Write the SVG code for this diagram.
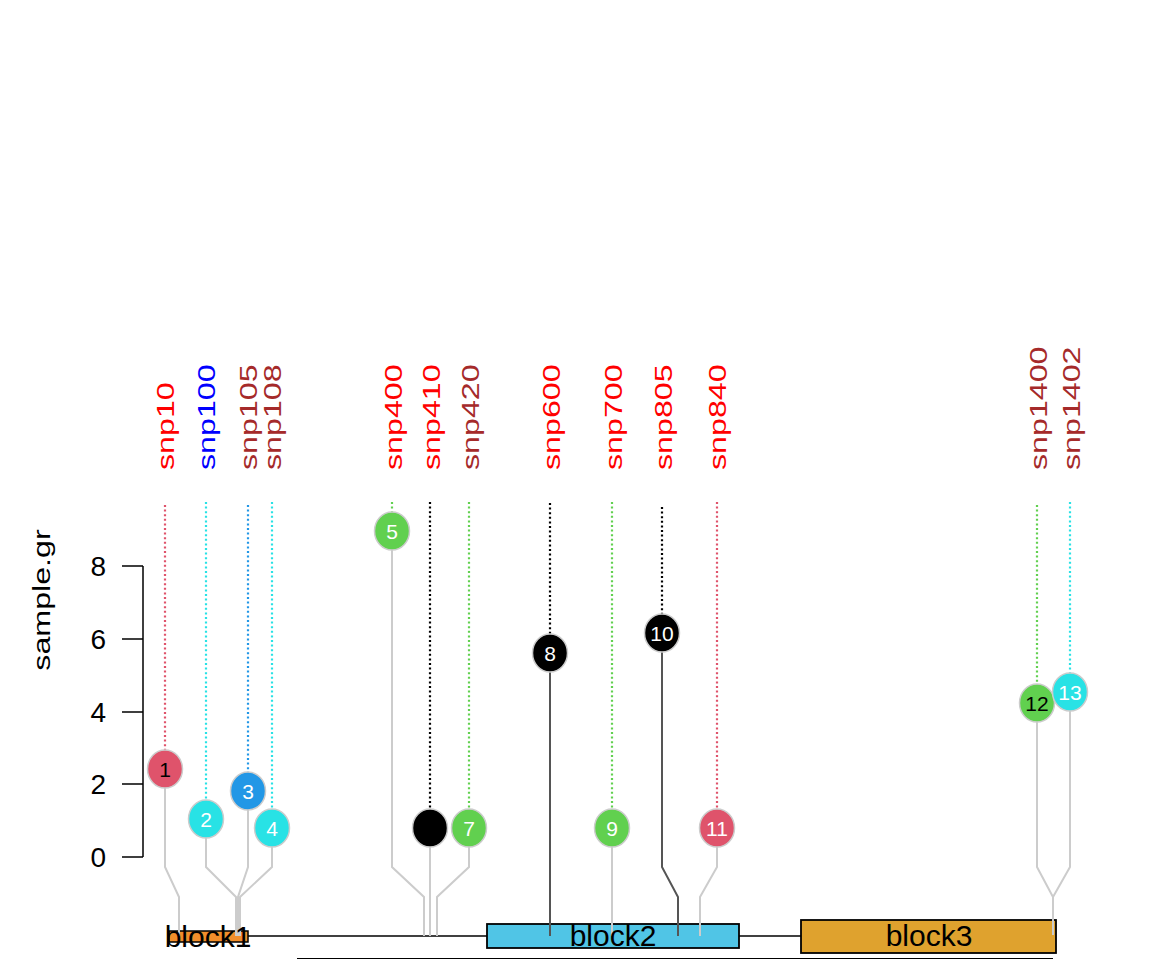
<svg xmlns="http://www.w3.org/2000/svg" width="1152" height="960" viewBox="0 0 1152 960">
<style>
text{font-family:"Liberation Sans",Arial,sans-serif}
.lab{font-size:23px}
.tick{font-size:28px;text-anchor:end}
.num{font-size:21px;text-anchor:middle}
.blk{font-size:30px;text-anchor:middle;fill:#000}
.dot{fill:none;stroke-width:2.2;stroke-dasharray:2 2.6}
.stem{fill:none;stroke:#cccccc;stroke-width:2}
.stemd{fill:none;stroke:#555555;stroke-width:2}
.pin{stroke:#cccccc;stroke-width:1.5}
.ax{stroke:#000;stroke-width:1.5;fill:none}
</style>
<rect width="1152" height="960" fill="#fff"/>
<g id="axis">
<path class="ax" d="M143 566V857M122 566H143M122 639H143M122 712H143M122 784H143M122 857H143"/>
<text class="tick" x="106" y="867">0</text>
<text class="tick" x="106" y="794">2</text>
<text class="tick" x="106" y="722">4</text>
<text class="tick" x="106" y="649">6</text>
<text class="tick" x="106" y="576">8</text>
<text transform="translate(50,600) rotate(-90) scale(1.4,1)" font-size="23" text-anchor="middle">sample.gr</text>
</g>
<g id="labels" class="lab">
<text transform="translate(174,470) rotate(-90) scale(1.4,1)" fill="#ff0000">snp10</text>
<text transform="translate(215,470) rotate(-90) scale(1.4,1)" fill="#0000ff">snp100</text>
<text transform="translate(257,470) rotate(-90) scale(1.4,1)" fill="#a52a2a">snp105</text>
<text transform="translate(281,470) rotate(-90) scale(1.4,1)" fill="#a52a2a">snp108</text>
<text transform="translate(402,470) rotate(-90) scale(1.4,1)" fill="#ff0000">snp400</text>
<text transform="translate(440,470) rotate(-90) scale(1.4,1)" fill="#ff0000">snp410</text>
<text transform="translate(479,470) rotate(-90) scale(1.4,1)" fill="#a52a2a">snp420</text>
<text transform="translate(560,470) rotate(-90) scale(1.4,1)" fill="#ff0000">snp600</text>
<text transform="translate(622,470) rotate(-90) scale(1.4,1)" fill="#ff0000">snp700</text>
<text transform="translate(672,470) rotate(-90) scale(1.4,1)" fill="#ff0000">snp805</text>
<text transform="translate(726,470) rotate(-90) scale(1.4,1)" fill="#ff0000">snp840</text>
<text transform="translate(1047,470) rotate(-90) scale(1.4,1)" fill="#a52a2a">snp1400</text>
<text transform="translate(1080,470) rotate(-90) scale(1.4,1)" fill="#a52a2a">snp1402</text>
</g>
<g id="track">
<path d="M169 936H801" stroke="#000" stroke-width="1.5"/>
<path d="M297 958.5H1053" stroke="#000" stroke-width="1.2"/>
<rect id="block1" x="169" y="931" width="79" height="11" fill="#f28e2b" stroke="#000" stroke-width="1.5"/>
<rect id="block2" x="487" y="924" width="252" height="24" fill="#50c5e6" stroke="#000" stroke-width="1.8"/>
<rect id="block3" x="801" y="920" width="255" height="33" fill="#dfa22e" stroke="#000" stroke-width="1.8"/>
</g>
<g id="connectors">
<path class="dot" stroke="#df536b" d="M165 505V750"/>
<path class="dot" stroke="#28e2e5" d="M206 502V800"/>
<path class="dot" stroke="#2297e6" d="M248 505V772"/>
<path class="dot" stroke="#28e2e5" d="M272 502V809"/>
<path class="dot" stroke="#61d04f" d="M392 502V512"/>
<path class="dot" stroke="#000" d="M430 502V809"/>
<path class="dot" stroke="#61d04f" d="M469 502V809"/>
<path class="dot" stroke="#000" d="M550 503V634"/>
<path class="dot" stroke="#61d04f" d="M612 502V809"/>
<path class="dot" stroke="#000" d="M662 507V614"/>
<path class="dot" stroke="#df536b" d="M717 502V809"/>
<path class="dot" stroke="#61d04f" d="M1037 505V684"/>
<path class="dot" stroke="#28e2e5" d="M1070 502V673"/>
<path class="stem" d="M165 788V867L179 897V936"/>
<path class="stem" d="M206 838V867L236 897V936"/>
<path class="stem" d="M248 810V867L238 897V936"/>
<path class="stem" d="M272 847V867L240 897V936"/>
<path class="stem" d="M392 550V867L424 897V936"/>
<path class="stem" d="M430 847V936"/>
<path class="stem" d="M469 847V867L437 897V936"/>
<path class="stemd" d="M550 672V936"/>
<path class="stem" d="M612 847V936"/>
<path class="stemd" d="M662 652V867L678 897V936"/>
<path class="stem" d="M717 847V867L700 897V936"/>
<path class="stem" d="M1037 722V867L1053 897V935"/>
<path class="stem" d="M1070 711V867L1053 897V935"/>
</g>
<g id="blocklabels">
<text class="blk" x="208" y="947" font-size="29">block1</text>
<text class="blk" x="613" y="946">block2</text>
<text class="blk" x="929" y="946">block3</text>
</g>
<g id="snp1"><ellipse class="pin" cx="165" cy="769" rx="17.5" ry="19" fill="#df536b"/><text class="num" x="165" y="776.5" fill="#000">1</text></g>
<g id="snp2"><ellipse class="pin" cx="206" cy="819" rx="17.5" ry="19" fill="#28e2e5"/><text class="num" x="206" y="826.5" fill="#fff">2</text></g>
<g id="snp3"><ellipse class="pin" cx="248" cy="791" rx="17.5" ry="19" fill="#2297e6"/><text class="num" x="248" y="798.5" fill="#fff">3</text></g>
<g id="snp4"><ellipse class="pin" cx="272" cy="828" rx="17.5" ry="19" fill="#28e2e5"/><text class="num" x="272" y="835.5" fill="#fff">4</text></g>
<g id="snp5"><ellipse class="pin" cx="392" cy="531" rx="17.5" ry="19" fill="#61d04f"/><text class="num" x="392" y="538.5" fill="#fff">5</text></g>
<g id="snp6"><ellipse class="pin" cx="430" cy="828" rx="17.5" ry="19" fill="#000"/></g>
<g id="snp7"><ellipse class="pin" cx="469" cy="828" rx="17.5" ry="19" fill="#61d04f"/><text class="num" x="469" y="835.5" fill="#fff">7</text></g>
<g id="snp8"><ellipse class="pin" cx="550" cy="653" rx="17.5" ry="19" fill="#000"/><text class="num" x="550" y="660.5" fill="#fff">8</text></g>
<g id="snp9"><ellipse class="pin" cx="612" cy="828" rx="17.5" ry="19" fill="#61d04f"/><text class="num" x="612" y="835.5" fill="#fff">9</text></g>
<g id="snp10"><ellipse class="pin" cx="662" cy="633" rx="17.5" ry="19" fill="#000"/><text class="num" x="662" y="640.5" fill="#fff">10</text></g>
<g id="snp11"><ellipse class="pin" cx="717" cy="828" rx="17.5" ry="19" fill="#df536b"/><text class="num" x="717" y="835.5" fill="#fff">11</text></g>
<g id="snp12"><ellipse class="pin" cx="1037" cy="703" rx="17.5" ry="19" fill="#61d04f"/><text class="num" x="1037" y="710.5" fill="#000">12</text></g>
<g id="snp13"><ellipse class="pin" cx="1070" cy="692" rx="17.5" ry="19" fill="#28e2e5"/><text class="num" x="1070" y="699.5" fill="#fff">13</text></g>
</svg>
